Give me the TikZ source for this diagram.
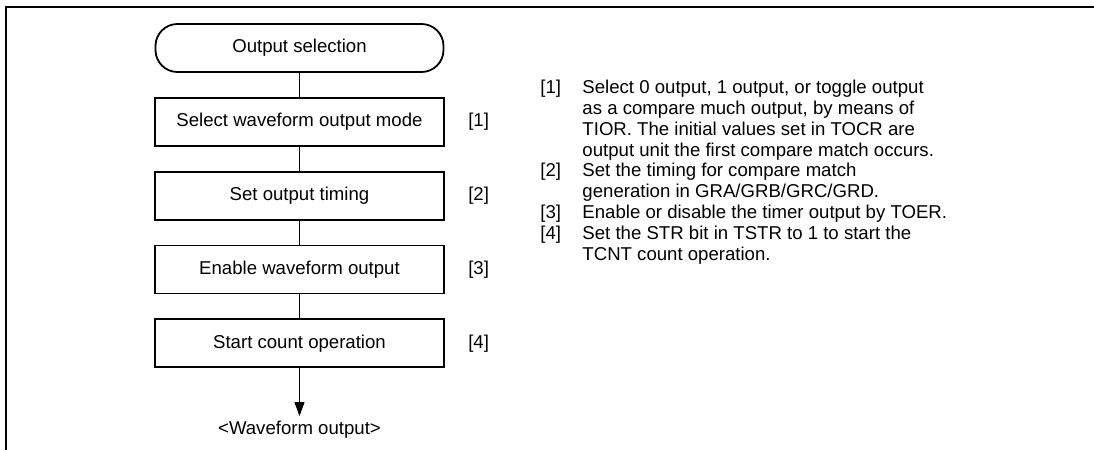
\documentclass[tikz,border=0pt]{standalone}
\usepackage{fontspec}
\setmainfont{Liberation Sans}
\usetikzlibrary{arrows.meta,positioning}

\begin{document}
\begin{tikzpicture}[
  node distance=12pt,
  txt/.style={font=\fontsize{9.3pt}{10.4pt}\selectfont},
  term/.style={draw,line width=0.9pt,rounded corners=11pt,minimum width=144pt,
               minimum height=24pt,txt},
  box/.style={draw,line width=0.9pt,minimum width=144.5pt,minimum height=24pt,txt},
  tag/.style={inner sep=0pt,txt},
  link/.style={line width=0.5pt},
  flow/.style={-{Triangle[length=7pt,width=5pt]},line width=0.5pt}
]
\useasboundingbox (0,0) rectangle (547pt,-225pt);
\draw[line width=1pt] (3.2pt,-225pt) -- (3.2pt,-3.4pt) -- (547pt,-3.4pt);
\node[term] (start) at (149.75pt,-24pt) {Output selection};
\node[box,below=of start] (s1) {Select waveform output mode};
\node[box,below=of s1] (s2) {Set output timing};
\node[box,below=of s2] (s3) {Enable waveform output};
\node[box,below=of s3] (s4) {Start count operation};
\node[below=24pt of s4,inner sep=2.5pt,txt] (wave) {<Waveform output>};
\node[tag,right=11.5pt of s1] (t1) {[1]};
\node[tag,right=11.5pt of s2] (t2) {[2]};
\node[tag,right=11.5pt of s3] (t3) {[3]};
\node[tag,right=11.5pt of s4] (t4) {[4]};
\draw[link] (start) -- (s1);
\draw[link] (s1) -- (s2);
\draw[link] (s2) -- (s3);
\draw[link] (s3) -- (s4);
\draw[flow] (s4) -- (wave);
% notes on the steps
\node[tag,anchor=base west] (notes) at (270pt,-46.8pt) {%
  \begin{tabular}[t]{@{}l@{\hspace{10.7pt}}l@{}}
  {[1]} & Select 0 output, 1 output, or toggle output\\
        & as a compare much output, by means of\\
        & TIOR. The initial values set in TOCR are\\
        & output unit the first compare match occurs.\\
  {[2]} & Set the timing for compare match\\
        & generation in GRA/GRB/GRC/GRD.\\
  {[3]} & Enable or disable the timer output by TOER.\\
  {[4]} & Set the STR bit in TSTR to 1 to start the\\
        & TCNT count operation.
  \end{tabular}};
\end{tikzpicture}
\end{document}
